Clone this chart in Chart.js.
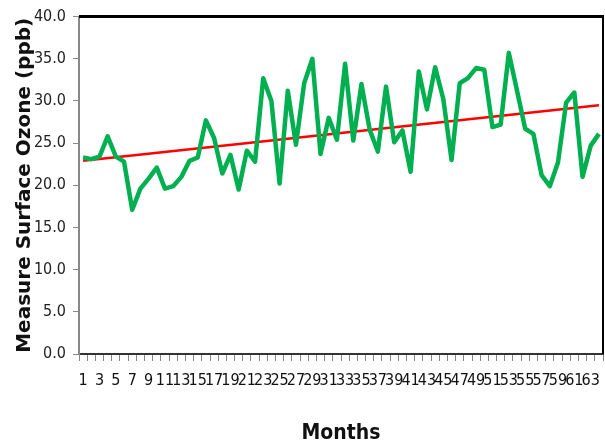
<!DOCTYPE html>
<html>
<head>
<meta charset="utf-8">
<script src="https://cdn.jsdelivr.net/npm/chart.js@4.4.1/dist/chart.umd.min.js"></script>
<style>
  html, body { margin: 0; padding: 0; background: #fff; }
  #wrap { width: 605px; height: 447px; position: relative; }
</style>
</head>
<body>
<div id="wrap"><canvas id="ozoneChart"></canvas></div>
<script>
const months = [
  "1", "2", "3", "4", "5", "6", "7", "8", "9", "10", "11", "12", "13", "14", "15", "16",
  "17", "18", "19", "20", "21", "22", "23", "24", "25", "26", "27", "28", "29", "30", "31", "32",
  "33", "34", "35", "36", "37", "38", "39", "40", "41", "42", "43", "44", "45", "46", "47", "48",
  "49", "50", "51", "52", "53", "54", "55", "56", "57", "58", "59", "60", "61", "62", "63", "64"
];

const ozone = [
  23.3, 23.1, 23.4, 25.8, 23.4, 22.8, 17.1, 19.6, 20.8, 22.1, 19.6, 19.9, 21.0, 22.9, 23.3, 27.7,
  25.6, 21.4, 23.6, 19.5, 24.1, 22.8, 32.7, 30.0, 20.2, 31.2, 24.8, 32.1, 35.0, 23.7, 28.0, 25.4,
  34.4, 25.3, 32.0, 26.6, 24.0, 31.7, 25.1, 26.5, 21.6, 33.5, 29.0, 34.0, 30.2, 23.0, 32.1, 32.7,
  33.9, 33.7, 26.9, 27.2, 35.7, 31.2, 26.7, 26.1, 21.2, 19.9, 22.7, 29.8, 31.0, 21.0, 24.7, 26.1
];

// linear trend at month 1 and month 64
const trendEnds = [22.9, 29.5];

const trendData = months.map((m, i) => {
  if (i === 0) return trendEnds[0];
  if (i === months.length - 1) return trendEnds[1];
  return null;
});

const narrowFamily = "'DejaVu Sans Condensed', 'Liberation Sans Narrow', sans-serif";

// heavy frame on top and right like the original
const frameBorder = {
  id: 'frameBorder',
  afterDraw(chart) {
    const { ctx, chartArea } = chart;
    ctx.save();
    ctx.strokeStyle = '#000';
    ctx.lineWidth = 3;
    ctx.beginPath();
    ctx.moveTo(chartArea.left, chartArea.top);
    ctx.lineTo(chartArea.right + 1, chartArea.top);
    ctx.stroke();
    ctx.lineWidth = 2;
    ctx.beginPath();
    ctx.moveTo(chartArea.right, chartArea.top);
    ctx.lineTo(chartArea.right, chartArea.bottom);
    ctx.stroke();
    ctx.restore();
  }
};

const ozoneChart = new Chart(document.getElementById('ozoneChart').getContext('2d'), {
  type: 'line',
  data: {
    labels: months,
    datasets: [
      {
        label: 'Ozone',
        data: ozone,
        borderColor: '#00b050',
        borderWidth: 4.5,
        pointRadius: 0,
        tension: 0,
        borderJoinStyle: 'round'
      },
      {
        label: 'Trend',
        data: trendData,
        borderColor: '#ff0000',
        borderWidth: 2.5,
        pointRadius: 0,
        tension: 0,
        spanGaps: true
      }
    ]
  },
  options: {
    responsive: true,
    maintainAspectRatio: false,
    animation: false,
    layout: { padding: { top: 15, right: 2, left: 0, bottom: 0 } },
    plugins: {
      legend: { display: false },
      tooltip: { enabled: false }
    },
    scales: {
      x: {
        offset: true,
        grid: {
          drawOnChartArea: false,
          drawTicks: true,
          tickLength: 7,
          color: '#888',
          offset: true
        },
        border: { color: '#333', width: 2 },
        ticks: {
          autoSkip: false,
          maxRotation: 0,
          minRotation: 0,
          padding: 10,
          color: '#111',
          font: { family: narrowFamily, size: 16 },
          callback: function (value, index) {
            return index % 2 === 0 ? this.getLabelForValue(value) : '';
          }
        },
        title: {
          display: true,
          text: 'Months',
          color: '#111',
          font: { family: narrowFamily, size: 21, weight: 'bold' },
          padding: { top: 14, bottom: 1 }
        },
        afterFit(scale) {
          scale.height = 93;
          scale.paddingLeft = 0;
          scale.paddingRight = 0;
        }
      },
      y: {
        min: 0,
        max: 40,
        grid: {
          drawOnChartArea: false,
          drawTicks: true,
          tickLength: 6,
          color: '#888'
        },
        border: { color: '#888', width: 2 },
        ticks: {
          stepSize: 5,
          padding: 7,
          color: '#222',
          font: { family: narrowFamily, size: 16 },
          callback: value => value.toFixed(1)
        },
        title: {
          display: true,
          text: 'Measure Surface Ozone (ppb)',
          color: '#111',
          font: { family: "'DejaVu Sans', Verdana, sans-serif", size: 20, weight: 'bold' },
          padding: { top: 13, bottom: 0 }
        },
        afterFit(scale) { scale.width = 79; }
      }
    }
  },
  plugins: [frameBorder]
});
</script>
</body>
</html>
